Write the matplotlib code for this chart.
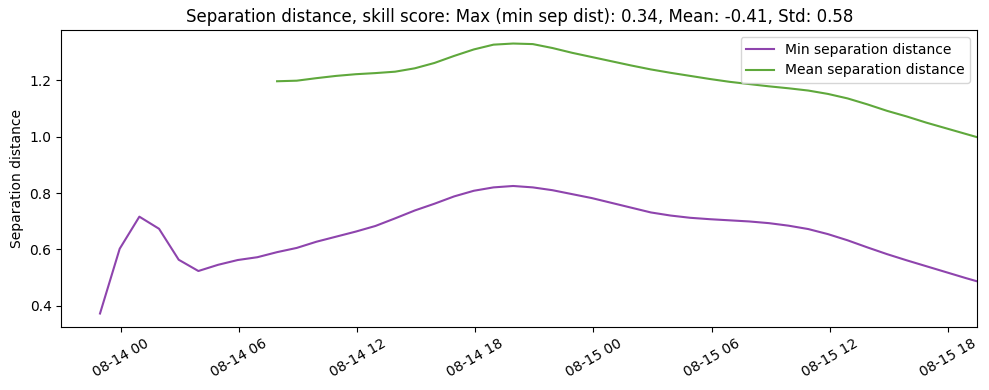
import matplotlib
matplotlib.use("Agg")
import matplotlib.pyplot as plt
import matplotlib.dates as mdates
import numpy as np
import pandas as pd

start = "2024-08-13 22:55"
min_sep = [0.372, 0.602, 0.716, 0.673, 0.563, 0.523, 0.545, 0.562, 0.572, 0.590,
           0.605, 0.627, 0.645, 0.663, 0.683, 0.710, 0.738, 0.762, 0.788, 0.808,
           0.820, 0.825, 0.820, 0.810, 0.796, 0.782, 0.765, 0.748, 0.731, 0.720,
           0.712, 0.707, 0.703, 0.699, 0.693, 0.684, 0.672, 0.654, 0.632, 0.607,
           0.583, 0.561, 0.540, 0.519, 0.498, 0.478]
mean_offset = 9
mean_sep = [1.197, 1.199, 1.208, 1.216, 1.222, 1.226, 1.231, 1.243, 1.262, 1.287,
            1.310, 1.327, 1.331, 1.329, 1.315, 1.298, 1.283, 1.268, 1.253, 1.239,
            1.227, 1.216, 1.205, 1.195, 1.187, 1.179, 1.172, 1.164, 1.152, 1.136,
            1.115, 1.092, 1.072, 1.050, 1.030, 1.010, 0.990]
title = "Separation distance, skill score: Max (min sep dist): 0.34, Mean: -0.41, Std: 0.58"

times = pd.date_range(start, periods=len(min_sep), freq="h")
mean_times = times[mean_offset:mean_offset + len(mean_sep)]

fig = plt.figure(figsize=(9.89, 3.9), dpi=100)
ax = fig.add_axes([0.062, 0.1615, 0.926, 0.7615])
ax.plot(times, min_sep, color="#8e44ad", lw=1.5, label="Min separation distance")
ax.plot(mean_times, mean_sep, color="#5fa83c", lw=1.5, label="Mean separation distance")
ax.set_title(title)
ax.set_ylabel("Separation distance")
ax.set_xlim(pd.Timestamp("2024-08-13 20:57"), pd.Timestamp("2024-08-15 19:30"))
ax.xaxis.set_major_locator(mdates.HourLocator(byhour=[0, 6, 12, 18]))
ax.xaxis.set_major_formatter(mdates.DateFormatter("%m-%d %H"))
plt.setp(ax.get_xticklabels(), rotation=30)
ax.legend(loc="upper right")
fig.savefig("out.png", dpi=100)
